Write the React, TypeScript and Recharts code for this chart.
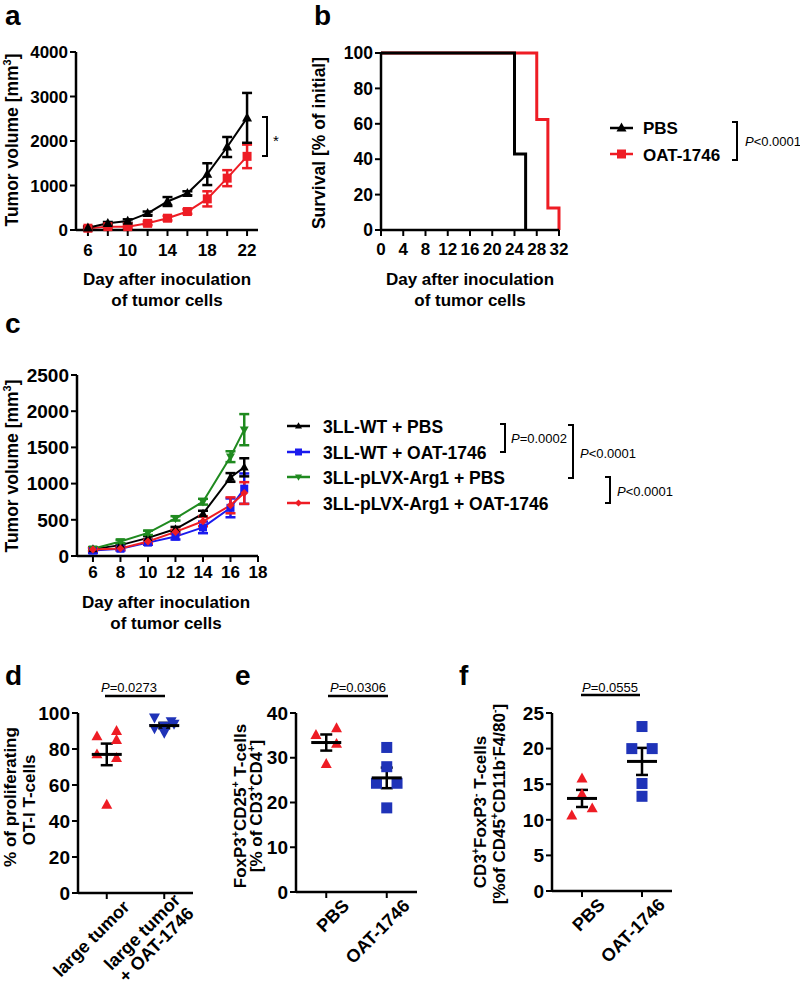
import React from 'react'
import { ComposedChart, ScatterChart, Line, Scatter, XAxis, YAxis, ErrorBar } from 'recharts'

const FONT = '"Liberation Sans", Arial, Helvetica, sans-serif'
const RED = '#ee1c24'
const BLUE = '#1a1aee'
const NAVY = '#1f33b8'
const GREEN = '#1f8a1f'

// a: tumor volume, PBS vs OAT-1746
const daysA = [6, 8, 10, 12, 14, 16, 18, 20, 22]
const pbsA = [50, 150, 200, 375, 640, 825, 1255, 1865, 2520]
const pbsAErr = [30, 30, 40, 40, 100, 45, 245, 225, 560]
const oatA = [40, 75, 75, 150, 265, 415, 700, 1165, 1655]
const oatAErr = [25, 20, 25, 40, 50, 50, 170, 180, 265]
const ticksA = [6, 8, 10, 12, 14, 16, 18, 20, 22]

// b: survival
const survDaysPbs = [0, 24, 26]
const survPbs = [100, 42.9, 0]
const survDaysOat = [0, 28, 30, 32]
const survOat = [100, 62.5, 12.5, 0]
const ticksBx = [0, 4, 8, 12, 16, 20, 24, 28, 32]
const ticksBy = [0, 20, 40, 60, 80, 100]

// c: 3LL-WT / 3LL-pLVX-Arg1
const daysC = [6, 8, 10, 12, 14, 16, 17]
const wtPbs = [95, 150, 250, 372, 585, 1085, 1225]
const wtPbsErr = [20, 20, 25, 30, 40, 60, 125]
const wtOat = [75, 100, 185, 268, 395, 665, 930]
const wtOatErr = [35, 25, 30, 40, 80, 130, 210]
const argPbs = [100, 200, 320, 520, 750, 1372, 1745]
const argPbsErr = [20, 25, 30, 30, 40, 75, 215]
const argOat = [90, 105, 200, 333, 480, 700, 870]
const argOatErr = [20, 20, 25, 30, 70, 110, 150]
const ticksCx = [6, 8, 10, 12, 14, 16, 18]
const ticksCy = [0, 500, 1000, 1500, 2000, 2500]

// d: % proliferating OT-I T-cells
const catD = [['large tumor'], ['large tumor', '+ OAT-1746']]
const dLarge = [87, 77, 90, 85, 75, 49]
const dLargeOat = [97.5, 95.5, 94, 93, 91.5, 89]
const dMean = [77, 93]
const dSem = [6, 1.5]

// e: FoxP3+CD25+ T-cells
const catEF = [['PBS'], ['OAT-1746']]
const ePbs = [35.1, 36.6, 33.1, 28.6]
const eOat = [32.3, 28, 24.3, 24.3, 18.8]
const eMean = [33.4, 25.5]
const eSem = [1.8, 2.3]

// f: CD3+FoxP3- T-cells
const fPbs = [15.8, 13.6, 11.6, 10.6]
const fOat = [23.1, 20, 20, 15.1, 13.3]
const fMean = [13, 18.2]
const fSem = [1.2, 1.9]

// horizontal spread of dots inside a column (in category units)
const jitD0 = [-0.17, -0.17, 0.17, 0.17, 0.17, 0]
const jitD1 = [-0.17, 0.12, 0.17, 0, -0.17, 0]
const jitE0 = [-0.17, 0.17, 0.17, 0]
const jitE1 = [0, 0, -0.17, 0.17, 0]
const jitF0 = [0, 0, 0.17, -0.17]
const jitF1 = [0, -0.17, 0.17, 0, 0]

const dataA = daysA.map((day, i) => ({ day, pbs: pbsA[i], pbsErr: pbsAErr[i], oat: oatA[i], oatErr: oatAErr[i] }))
const survPbsData = survDaysPbs.map((day, i) => ({ day, v: survPbs[i] }))
const survOatData = survDaysOat.map((day, i) => ({ day, v: survOat[i] }))
const dataC = daysC.map((day, i) => ({
  day,
  wtPbs: wtPbs[i], wtPbsErr: wtPbsErr[i],
  wtOat: wtOat[i], wtOatErr: wtOatErr[i],
  argPbs: argPbs[i], argPbsErr: argPbsErr[i],
  argOat: argOat[i], argOatErr: argOatErr[i],
}))
const pts = (vals: number[], cat: number, jit: number[]) => vals.map((y, i) => ({ x: cat + jit[i], y }))
const means = (m: number[], s: number[]) => m.map((y, i) => ({ x: i, y, err: s[i] }))

type Shape = 'up' | 'down' | 'square' | 'diamond'

function Marker({ shape, cx, cy, size, color }: { shape: Shape; cx: number; cy: number; size: number; color: string }) {
  if (cx == null || cy == null) return null
  const h = size / 2
  if (shape === 'square') return <rect x={cx - h} y={cy - h} width={size} height={size} fill={color} />
  if (shape === 'diamond') return <polygon points={`${cx},${cy - h} ${cx + h},${cy} ${cx},${cy + h} ${cx - h},${cy}`} fill={color} />
  const t = size * 0.9
  if (shape === 'up') return <polygon points={`${cx},${cy - t * 0.6} ${cx + h},${cy + t * 0.4} ${cx - h},${cy + t * 0.4}`} fill={color} />
  return <polygon points={`${cx},${cy + t * 0.6} ${cx + h},${cy - t * 0.4} ${cx - h},${cy - t * 0.4}`} fill={color} />
}

const dot = (shape: Shape, color: string, size: number) => (p: any) => (
  <Marker key={`${shape}-${color}-${p.index}`} shape={shape} cx={p.cx} cy={p.cy} size={size} color={color} />
)
const shapeFn = (shape: Shape, color: string, size: number) => (p: any) => (
  <Marker shape={shape} cx={p.cx} cy={p.cy} size={size} color={color} />
)
const meanShape = (p: any) => <line x1={p.cx - 15} x2={p.cx + 15} y1={p.cy} y2={p.cy} stroke="#000" strokeWidth={3} />

const AXIS = { stroke: '#000', strokeWidth: 2.5 }
const TICKLINE = { stroke: '#000', strokeWidth: 2 }
const tickStyle = (size: number) => ({ fill: '#000', fontSize: size, fontWeight: 700, fontFamily: FONT })

const catTick = (labels: string[][], size: number) => (props: any) => {
  const { x, y, payload } = props
  const lines = labels[payload.value] || []
  const lh = size * 1.05
  return (
    <g transform={`translate(${x + 24},${y + 7})`}>
      <text transform="rotate(-45)" textAnchor="end" fontSize={size} fontWeight={700} fontFamily={FONT} fill="#000">
        {lines.map((l, i) => (
          <tspan key={i} x={0} dy={i === 0 ? (-(lines.length - 1) * lh) / 2 : lh}>{l}</tspan>
        ))}
      </text>
    </g>
  )
}

type Seg = string | [string]
function Rich({ segs, size }: { segs: Seg[]; size: number }) {
  let raised = false
  return (
    <>
      {segs.map((s, i) => {
        if (Array.isArray(s)) {
          const el = <tspan key={i} fontSize={size * 0.62} dy={raised ? 0 : -size * 0.42}>{s[0]}</tspan>
          raised = true
          return el
        }
        const el = <tspan key={i} dy={raised ? size * 0.42 : 0}>{s}</tspan>
        raised = false
        return el
      })}
    </>
  )
}

function Box({ left, top, children }: { left: number; top: number; children: React.ReactNode }) {
  return <div style={{ position: 'absolute', left, top }}>{children}</div>
}

function DotPlot({ width, height, yw, right, xh, domain, ticks, cats, left0, left1, mean, shape0, shape1, color1 }: any) {
  return (
    <ScatterChart width={width} height={height} margin={{ top: 23, right, bottom: 0, left: 0 }}>
      <XAxis type="number" dataKey="x" domain={[-0.5, 1.5]} ticks={[0, 1]} interval={0} height={xh}
        axisLine={AXIS} tickLine={TICKLINE} tickSize={6} tick={catTick(cats, 18)} />
      <YAxis type="number" dataKey="y" domain={domain} ticks={ticks} interval={0} width={yw}
        axisLine={AXIS} tickLine={TICKLINE} tickSize={6} tick={tickStyle(19)} />
      <Scatter data={left0} shape={shapeFn(shape0, RED, 11)} isAnimationActive={false} />
      <Scatter data={left1} shape={shapeFn(shape1, color1, 11)} isAnimationActive={false} />
      <Scatter data={mean} shape={meanShape} isAnimationActive={false}>
        <ErrorBar dataKey="err" direction="y" width={6} strokeWidth={2.5} stroke="#000" />
      </Scatter>
    </ScatterChart>
  )
}

function Overlay() {
  const br = (x: number, y1: number, y2: number, arm = 5) => (
    <path d={`M${x - arm},${y1} H${x} V${y2} H${x - arm}`} fill="none" stroke="#000" strokeWidth={2} />
  )
  const P = ({ x, y, rest, anchor = 'start' }: { x: number; y: number; rest: string; anchor?: string }) => (
    <text x={x} y={y} fontSize={13} textAnchor={anchor as any}>
      <tspan fontStyle="italic">P</tspan>{rest}
    </text>
  )
  const letter = (t: string, x: number, y: number) => <text x={x} y={y} fontSize={28} fontWeight={700}>{t}</text>
  const xTitle = (cx: number, y1: number) => (
    <g fontSize={17} fontWeight={700} textAnchor="middle">
      <text x={cx} y={y1}>Day after inoculation</text>
      <text x={cx} y={y1 + 21}>of tumor cells</text>
    </g>
  )
  const rot = (x: number, y: number, segs: Seg[], size = 17) => (
    <text transform={`translate(${x},${y}) rotate(-90)`} textAnchor="middle" fontSize={size} fontWeight={700}>
      <Rich segs={segs} size={size} />
    </text>
  )
  return (
    <svg width={800} height={995} style={{ position: 'absolute', left: 0, top: 0, pointerEvents: 'none' }} fontFamily={FONT} fill="#000">
      {letter('a', 5, 25)}
      {letter('b', 314, 25)}
      {letter('c', 5, 333)}
      {letter('d', 5, 685)}
      {letter('e', 235, 685)}
      {letter('f', 459, 685)}

      {rot(18, 140, ['Tumor volume [mm', ['3'], ']'], 17.5)}
      {xTitle(167, 285)}
      {br(267, 117, 156)}
      <text x={273} y={146} fontSize={15}>*</text>

      {rot(325, 143, ['Survival [% of initial]'], 17.5)}
      {xTitle(470, 285)}
      <line x1={610} x2={633} y1={128} y2={128} stroke="#000" strokeWidth={2.5} />
      <Marker shape="up" cx={621.5} cy={128} size={10} color="#000" />
      <line x1={610} x2={633} y1={154} y2={154} stroke={RED} strokeWidth={2.5} />
      <Marker shape="square" cx={621.5} cy={154} size={9} color={RED} />
      <text x={643} y={134} fontSize={17} fontWeight={700}>PBS</text>
      <text x={643} y={161} fontSize={17} fontWeight={700}>OAT-1746</text>
      {br(737, 122, 160)}
      <P x={745} y={146} rest="<0.0001" />

      {rot(18, 466, ['Tumor volume [mm', ['3'], ']'], 17.5)}
      {xTitle(166, 608)}
      {[
        { y: 426, c: '#000', s: 'up' as Shape, t: '3LL-WT + PBS' },
        { y: 452, c: BLUE, s: 'square' as Shape, t: '3LL-WT + OAT-1746' },
        { y: 477, c: GREEN, s: 'down' as Shape, t: '3LL-pLVX-Arg1 + PBS' },
        { y: 503, c: RED, s: 'diamond' as Shape, t: '3LL-pLVX-Arg1 + OAT-1746' },
      ].map((r) => (
        <g key={r.t}>
          <line x1={287} x2={310} y1={r.y} y2={r.y} stroke={r.c} strokeWidth={2.5} />
          <Marker shape={r.s} cx={298.5} cy={r.y} size={7} color={r.c} />
          <text x={323} y={r.y + 7} fontSize={17.5} fontWeight={700}>{r.t}</text>
        </g>
      ))}
      {br(505, 424, 452)}
      <P x={511} y={443} rest="=0.0002" />
      {br(573, 425, 478)}
      <P x={580} y={458} rest="<0.0001" />
      {br(610, 477, 503)}
      <P x={617} y={496} rest="<0.0001" />

      {rot(16, 797, ['% of proliferating'])}
      {rot(35, 800, ['OT-I T-cells'])}
      <line x1={105} x2={165} y1={696} y2={696} stroke="#000" strokeWidth={2.5} />
      <P x={129} y={692} rest="=0.0273" anchor="middle" />

      {rot(246, 806, ['FoxP3', ['+'], 'CD25', ['+'], ' T-cells'])}
      {rot(262, 806, ['[% of CD3', ['+'], 'CD4', ['+'], ']'])}
      <line x1={328} x2={388} y1={696} y2={696} stroke="#000" strokeWidth={2.5} />
      <P x={358} y={692} rest="=0.0306" anchor="middle" />

      {rot(486, 812, ['CD3', ['+'], 'FoxP3', ['-'], ' T-cells'])}
      {rot(505, 804, ['[%of CD45', ['+'], 'CD11b', ['-'], 'F4/80', ['-'], ']'])}
      <line x1={581} x2={640} y1={695} y2={695} stroke="#000" strokeWidth={2.5} />
      <P x={610} y={692} rest="=0.0555" anchor="middle" />
    </svg>
  )
}

export default function App() {
  return (
    <div style={{ position: 'absolute', left: 0, top: 0, width: 800, height: 995, background: '#fff', fontFamily: FONT }}>
      <Box left={0} top={0}>
        <ComposedChart width={300} height={280} data={dataA} margin={{ top: 52, right: 42, bottom: 0, left: 0 }}>
          <XAxis dataKey="day" type="number" domain={[4.8, 23.1]} ticks={ticksA} interval={0} height={50}
            tickFormatter={(v: number) => ((v - 6) % 4 === 0 ? String(v) : '')}
            axisLine={AXIS} tickLine={TICKLINE} tickSize={6} tickMargin={8} tick={tickStyle(17)} />
          <YAxis type="number" domain={[0, 4000]} ticks={[0, 1000, 2000, 3000, 4000]} interval={0} width={76}
            axisLine={AXIS} tickLine={TICKLINE} tickSize={6} tick={tickStyle(17)} />
          <Line dataKey="oat" stroke={RED} strokeWidth={2} dot={dot('square', RED, 9)} activeDot={false} isAnimationActive={false}>
            <ErrorBar dataKey="oatErr" direction="y" width={5} strokeWidth={2.5} stroke={RED} />
          </Line>
          <Line dataKey="pbs" stroke="#000" strokeWidth={2} dot={dot('up', '#000', 10)} activeDot={false} isAnimationActive={false}>
            <ErrorBar dataKey="pbsErr" direction="y" width={5} strokeWidth={2.5} stroke="#000" />
          </Line>
        </ComposedChart>
      </Box>

      <Box left={300} top={0}>
        <ComposedChart width={300} height={280} margin={{ top: 53, right: 41, bottom: 0, left: 0 }}>
          <XAxis dataKey="day" type="number" domain={[0, 32]} ticks={ticksBx} interval={0} height={50}
            axisLine={AXIS} tickLine={TICKLINE} tickSize={6} tickMargin={7} tick={tickStyle(17)} />
          <YAxis type="number" domain={[0, 100]} ticks={ticksBy} interval={0} width={81}
            axisLine={AXIS} tickLine={TICKLINE} tickSize={6} tick={tickStyle(17.5)} />
          <Line data={survOatData} dataKey="v" type="stepAfter" stroke={RED} strokeWidth={3} dot={false} activeDot={false} isAnimationActive={false} />
          <Line data={survPbsData} dataKey="v" type="stepAfter" stroke="#000" strokeWidth={3} dot={false} activeDot={false} isAnimationActive={false} />
        </ComposedChart>
      </Box>

      <Box left={0} top={330}>
        <ComposedChart width={300} height={260} data={dataC} margin={{ top: 45, right: 42, bottom: 0, left: 0 }}>
          <XAxis dataKey="day" type="number" domain={[4.84, 18]} ticks={ticksCx} interval={0} height={34}
            axisLine={AXIS} tickLine={TICKLINE} tickSize={6} tickMargin={4} tick={tickStyle(17)} />
          <YAxis type="number" domain={[0, 2500]} ticks={ticksCy} interval={0} width={77}
            axisLine={AXIS} tickLine={TICKLINE} tickSize={6} tick={tickStyle(19)} />
          <Line dataKey="wtOat" stroke={BLUE} strokeWidth={2} dot={dot('square', BLUE, 8)} activeDot={false} isAnimationActive={false}>
            <ErrorBar dataKey="wtOatErr" direction="y" width={5} strokeWidth={2.5} stroke={BLUE} />
          </Line>
          <Line dataKey="wtPbs" stroke="#000" strokeWidth={2} dot={dot('up', '#000', 9)} activeDot={false} isAnimationActive={false}>
            <ErrorBar dataKey="wtPbsErr" direction="y" width={5} strokeWidth={2.5} stroke="#000" />
          </Line>
          <Line dataKey="argPbs" stroke={GREEN} strokeWidth={2} dot={dot('down', GREEN, 9)} activeDot={false} isAnimationActive={false}>
            <ErrorBar dataKey="argPbsErr" direction="y" width={5} strokeWidth={2.5} stroke={GREEN} />
          </Line>
          <Line dataKey="argOat" stroke={RED} strokeWidth={2} dot={dot('diamond', RED, 8)} activeDot={false} isAnimationActive={false}>
            <ErrorBar dataKey="argOatErr" direction="y" width={5} strokeWidth={2.5} stroke={RED} />
          </Line>
        </ComposedChart>
      </Box>

      <Box left={0} top={690}>
        <DotPlot width={220} height={305} yw={78} right={27} xh={102} domain={[0, 100]} ticks={[0, 20, 40, 60, 80, 100]}
          cats={catD} left0={pts(dLarge, 0, jitD0)} left1={pts(dLargeOat, 1, jitD1)} mean={means(dMean, dSem)}
          shape0="up" shape1="down" color1={NAVY} />
      </Box>
      <Box left={220} top={690}>
        <DotPlot width={220} height={305} yw={76} right={23} xh={103} domain={[0, 40]} ticks={[0, 10, 20, 30, 40]}
          cats={catEF} left0={pts(ePbs, 0, jitE0)} left1={pts(eOat, 1, jitE1)} mean={means(eMean, eSem)}
          shape0="up" shape1="square" color1={NAVY} />
      </Box>
      <Box left={480} top={690}>
        <DotPlot width={220} height={305} yw={72} right={28} xh={104} domain={[0, 25]} ticks={[0, 5, 10, 15, 20, 25]}
          cats={catEF} left0={pts(fPbs, 0, jitF0)} left1={pts(fOat, 1, jitF1)} mean={means(fMean, fSem)}
          shape0="up" shape1="square" color1={NAVY} />
      </Box>

      <Overlay />
    </div>
  )
}
